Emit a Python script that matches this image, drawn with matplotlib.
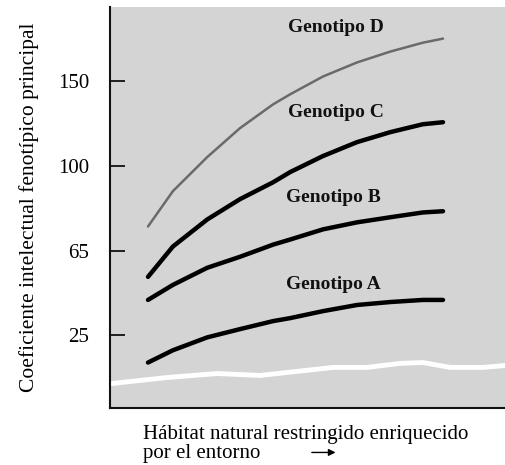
import numpy as np
import matplotlib
matplotlib.use('Agg')
import matplotlib.pyplot as plt

# tick labels on the y axis (evenly spaced in the drawing, not linear)
y_ticks = [25, 65, 100, 150]

# x is a plain 0-100 position along the "environment" axis (no ticks)
x_pos = [9.6, 15.9, 24.6, 32.9, 41.3, 45.6, 53.9, 62.5, 70.9, 79.2, 84.3]

geno_a = [12.1, 17.9, 24.0, 27.9, 31.7, 33.1, 36.4, 39.3, 40.7, 41.7, 41.7]
geno_b = [41.7, 48.8, 56.9, 62.1, 67.5, 69.6, 73.8, 76.7, 78.8, 80.8, 81.3]
geno_c = [52.6, 66.7, 77.9, 86.3, 93.3, 97.5, 105.9, 114.1, 120.0, 124.7, 125.9]
geno_d = [75.0, 89.6, 105.3, 122.4, 136.5, 142.4, 152.9, 161.2, 167.6, 172.9, 175.3]

labels = ['Genotipo A', 'Genotipo B', 'Genotipo C', 'Genotipo D']
label_x = [56.5, 56.5, 57.1, 57.1]
label_y = [48.8, 87.1, 131.8, 181.8]

# white wavy "ground" band near the bottom
ground_x = [0, 14.4, 27.1, 38.0, 44.8, 56.5, 65.1, 73.4, 79.2, 86.1, 94.4, 100]
ground_y = [2.1, 5.0, 6.9, 6.0, 7.4, 9.8, 9.8, 11.7, 12.1, 9.8, 9.8, 10.7]


def fwd(v):
    v = np.asarray(v, dtype=float)
    out = np.interp(v, y_ticks, [0, 1, 2, 3])
    out = np.where(v < 25, (v - 25) / 40.0, out)
    out = np.where(v > 150, 3 + (v - 150) / 50.0, out)
    return out


def inv(t):
    t = np.asarray(t, dtype=float)
    out = np.interp(t, [0, 1, 2, 3], y_ticks)
    out = np.where(t < 0, 25 + t * 40.0, out)
    out = np.where(t > 3, 150 + (t - 3) * 50.0, out)
    return out


plt.rcParams['font.family'] = ['Liberation Serif', 'DejaVu Serif']

fig = plt.figure(figsize=(5.05, 4.65), dpi=100)
ax = fig.add_axes([0.218, 0.123, 0.782, 0.862])
ax.set_facecolor('#d4d4d4')
ax.set_yscale('function', functions=(fwd, inv))

ax.plot(ground_x, ground_y, color='white', linewidth=3.5, zorder=1)

ax.plot(x_pos, geno_d, color='#6a6a6a', linewidth=1.8, solid_capstyle='round',
        solid_joinstyle='round', zorder=2)
for vals in [geno_c, geno_b, geno_a]:
    ax.plot(x_pos, vals, color='black', linewidth=3.2, solid_capstyle='round',
            solid_joinstyle='round', zorder=3)

for name, lx, ly in zip(labels, label_x, label_y):
    ax.text(lx, ly, name, ha='center', va='center', fontsize=14,
            fontweight='bold', color='#111111')

ax.set_xlim(0, 100)
ax.set_ylim(-9.3, 194)
ax.set_xticks([])
ax.set_yticks(y_ticks)
ax.set_yticklabels([str(t) for t in y_ticks])
ax.yaxis.set_minor_locator(matplotlib.ticker.NullLocator())
ax.tick_params(axis='y', direction='in', length=11, width=1.2, pad=15,
               labelsize=15, colors='black')

for side in ['top', 'right']:
    ax.spines[side].set_visible(False)
for side in ['left', 'bottom']:
    ax.spines[side].set_linewidth(1.5)
    ax.spines[side].set_color('#111111')

ax.set_ylabel('Coeficiente intelectual fenotípico principal', fontsize=15.5, labelpad=14)

fig.text(0.283, 0.066, 'Hábitat natural restringido enriquecido', fontsize=15,
         ha='left', va='center')
fig.text(0.283, 0.016, 'por el entorno', fontsize=15, ha='left', va='baseline')
ax.annotate('', xy=(0.670, 0.027), xytext=(0.612, 0.027), xycoords='figure fraction',
            arrowprops=dict(arrowstyle='-|>', color='black', lw=1.0,
                            mutation_scale=10))

fig.savefig('out.png', dpi=100)
